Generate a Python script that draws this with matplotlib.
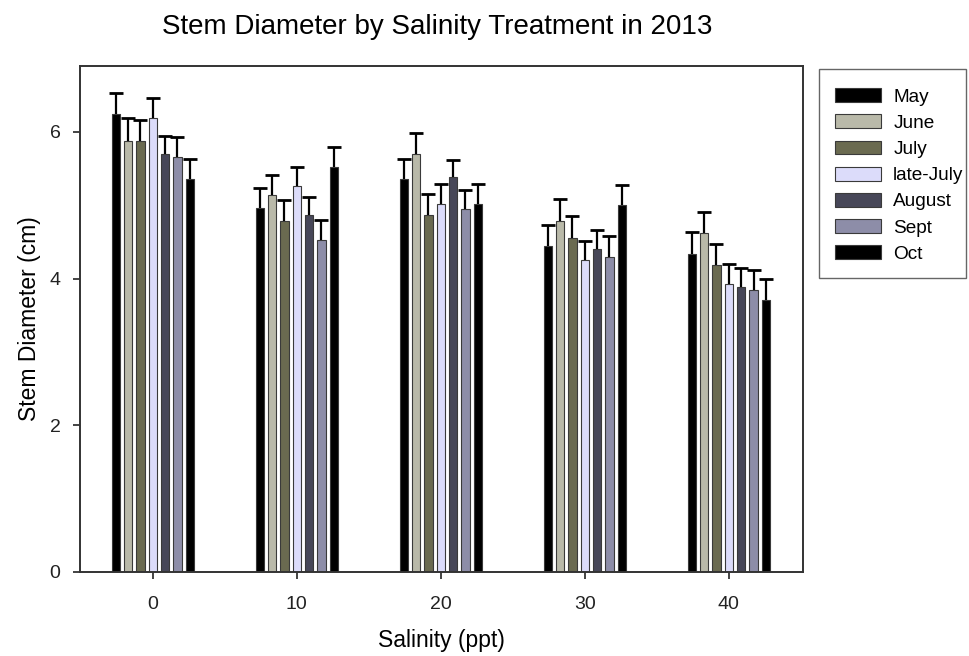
import matplotlib
matplotlib.use("Agg")
import matplotlib.pyplot as plt
import numpy as np

plt.rcParams['font.family'] = ['Liberation Sans', 'DejaVu Sans']

salinity = [0, 10, 20, 30, 40]
months = ["May", "June", "July", "late-July", "August", "Sept", "Oct"]
colors = ["#000000", "#b9b9a9", "#6a6a50", "#dcdcfa", "#474758", "#8d8da8", "#000000"]

# mean stem diameter (cm), one list per month, across salinity 0..40
may = [6.25, 4.96, 5.36, 4.45, 4.34]
june = [5.88, 5.14, 5.70, 4.79, 4.62]
july = [5.88, 4.79, 4.87, 4.55, 4.18]
late_july = [6.19, 5.27, 5.02, 4.25, 3.93]
august = [5.70, 4.87, 5.38, 4.41, 3.89]
sept = [5.66, 4.53, 4.95, 4.30, 3.85]
october = [5.36, 5.52, 5.02, 5.00, 3.71]

# standard errors (upper only)
may_err = [0.28, 0.27, 0.27, 0.28, 0.29]
june_err = [0.31, 0.28, 0.29, 0.30, 0.29]
july_err = [0.29, 0.28, 0.29, 0.30, 0.29]
late_july_err = [0.27, 0.25, 0.27, 0.26, 0.27]
august_err = [0.25, 0.25, 0.24, 0.25, 0.26]
sept_err = [0.27, 0.27, 0.26, 0.28, 0.27]
october_err = [0.27, 0.27, 0.27, 0.28, 0.28]

means = [may, june, july, late_july, august, sept, october]
errs = [may_err, june_err, july_err, late_july_err, august_err, sept_err, october_err]

fig = plt.figure(figsize=(9.7, 6.56), dpi=100)
ax = fig.add_axes([80/970, 1-572/656, (803-80)/970, (572-66)/656])

step = 0.857
width = 0.58
x = np.array(salinity, dtype=float)
for i in range(len(months)):
    pos = x + (i - 3) * step
    ax.bar(pos, means[i], width, color=colors[i], edgecolor="#3a3a3a",
           linewidth=0.8, label=months[i], zorder=2)
    eb = ax.errorbar(pos, means[i], yerr=[np.zeros(5), errs[i]], fmt="none",
                     ecolor="black", elinewidth=1.6, capsize=5, capthick=2, zorder=3)
    # hide the lower cap (sits on the bar top)
    eb[1][0].set_visible(False)

ax.set_xlim(-5.05, 45.15)
ax.set_ylim(0, 6.9)
ax.set_xticks(salinity)
ax.set_yticks([0, 2, 4, 6])
ax.tick_params(axis="both", direction="out", length=5, width=1.2,
               labelsize=14, colors="#222222")
ax.tick_params(axis="x", pad=12)
ax.tick_params(axis="y", pad=9)
for s in ax.spines.values():
    s.set_color("#333333")
    s.set_linewidth(1.4)

ax.set_ylabel("Stem Diameter (cm)", fontsize=16.5, labelpad=6)
fig.text(441/970, 1-641/656, "Salinity (ppt)", ha="center", va="center", fontsize=16.5)
fig.text(437/970, 1-27/656, "Stem Diameter by Salinity Treatment in 2013",
         ha="center", va="center", fontsize=20)

leg = fig.legend(loc="upper left", bbox_to_anchor=(819/970, 1-72/656),
                 fontsize=13.7, frameon=False,
                 handlelength=2.4, handleheight=0.75, labelspacing=0.45,
                 borderpad=0.85, handletextpad=0.65, borderaxespad=0)
for h in leg.legend_handles:
    h.set_edgecolor("#3a3a3a")
fig.add_artist(plt.Rectangle((819/970, 1-278/656), 147/970, 209/656,
                             transform=fig.transFigure, fill=False,
                             edgecolor="#666666", linewidth=1.0))

fig.savefig("out.png", dpi=100)
